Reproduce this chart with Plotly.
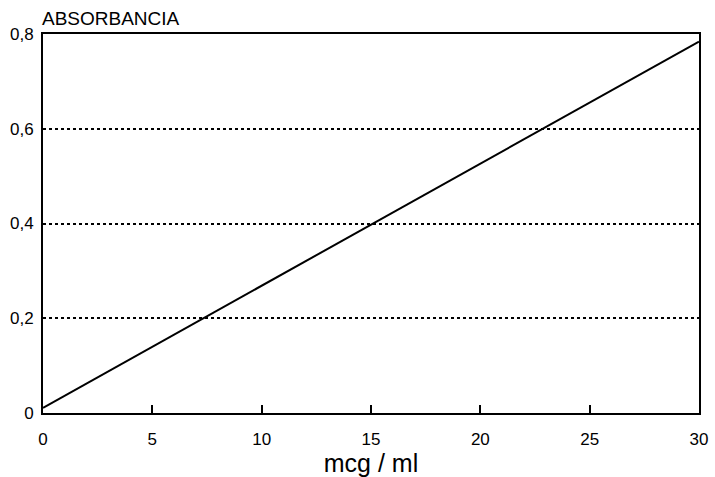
import plotly.graph_objects as go

concentration = [0, 4, 8, 12, 16, 20, 24, 28, 30]
absorbance = [0.011, 0.114, 0.217, 0.320, 0.423, 0.526, 0.629, 0.733, 0.784]

x_ticks = [0, 5, 10, 15, 20, 25, 30]
x_tick_labels = ["0", "5", "10", "15", "20", "25", "30"]
y_ticks = [0, 0.2, 0.4, 0.6, 0.8]
y_tick_labels = ["0", "0,2", "0,4", "0,6", "0,8"]

FONT = "Liberation Sans, Arial, sans-serif"

fig = go.Figure()
fig.add_trace(go.Scatter(
    x=concentration, y=absorbance, mode="lines",
    line=dict(color="black", width=2), showlegend=False, hoverinfo="skip"))

fig.update_layout(
    width=715, height=477,
    margin=dict(l=43, r=16, t=34, b=64),
    paper_bgcolor="white", plot_bgcolor="white",
    font=dict(family=FONT, color="black", size=17),
    xaxis=dict(range=[0, 30], tickvals=x_ticks, ticktext=x_tick_labels,
               showline=True, linecolor="black", linewidth=2, mirror=True,
               ticks="inside", ticklen=8, tickwidth=1.5, tickcolor="black",
               showgrid=False, zeroline=False, ticklabelstandoff=10,
               automargin=False,
               tickfont=dict(size=17, family=FONT),
               title=dict(text="mcg / ml", font=dict(size=25, family=FONT), standoff=4)),
    yaxis=dict(range=[0, 0.8], tickvals=y_ticks, ticktext=y_tick_labels,
               showline=True, linecolor="black", linewidth=2, mirror=True,
               ticks="", showgrid=True, gridcolor="black", gridwidth=1.5, griddash="dot",
               zeroline=False, ticklabelstandoff=4, automargin=False,
               tickfont=dict(size=17, family=FONT)),
    annotations=[dict(text="ABSORBANCIA", xref="paper", yref="paper", x=0, y=1,
                      xanchor="left", yanchor="bottom", yshift=3, xshift=-3, showarrow=False,
                      font=dict(size=19, family=FONT, color="black"))],
)

fig.write_html("out.html", config={"displayModeBar": False},
               post_script="document.body.style.margin='0';document.body.style.overflow='hidden';")
